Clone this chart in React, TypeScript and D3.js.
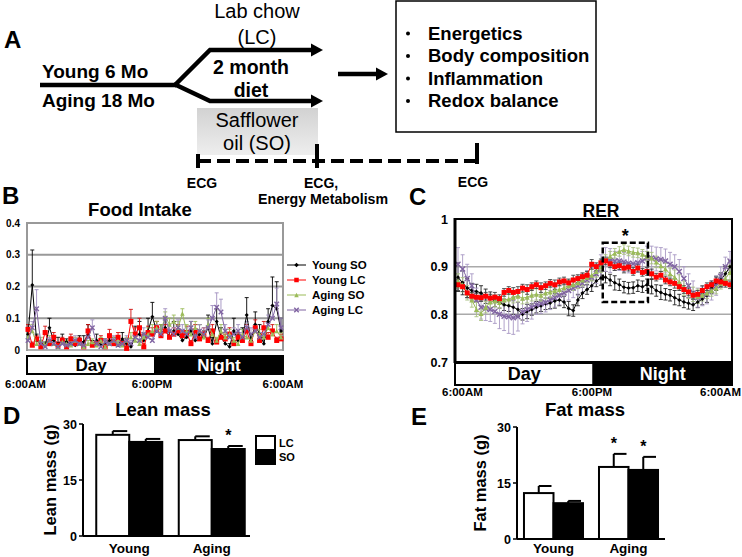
import React from 'react';
import * as d3 from 'd3';

const FONT = "'Liberation Sans', Arial, Helvetica, sans-serif";

// ---------- Panel B: Food intake (g) ----------
const foodYoungSO = [0.05, 0.205, 0.03, 0.02, 0.015, 0.07, 0.03, 0.02, 0.03, 0.025, 0.02, 0.015, 0.03, 0.025, 0.05, 0.02, 0.03, 0.015, 0.02, 0.03, 0.025, 0.015, 0.035, 0.02, 0.01, 0.045, 0.05, 0.03, 0.06, 0.105, 0.06, 0.05, 0.07, 0.04, 0.06, 0.05, 0.03, 0.04, 0.06, 0.03, 0.05, 0.04, 0.07, 0.02, 0.09, 0.04, 0.02, 0.01, 0.06, 0.03, 0.04, 0.11, 0.03, 0.08, 0.05, 0.02, 0.09, 0.14, 0.13, 0.06];
const foodYoungSOErr = [0.02, 0.11, 0.02, 0.01, 0.01, 0.03, 0.015, 0.02, 0.02, 0.01, 0.02, 0.01, 0.015, 0.02, 0.03, 0.01, 0.02, 0.01, 0.015, 0.02, 0.015, 0.01, 0.02, 0.015, 0.01, 0.03, 0.04, 0.02, 0.04, 0.045, 0.03, 0.03, 0.03, 0.02, 0.03, 0.03, 0.02, 0.02, 0.03, 0.02, 0.03, 0.02, 0.04, 0.02, 0.04, 0.03, 0.02, 0.01, 0.04, 0.02, 0.03, 0.055, 0.02, 0.04, 0.03, 0.02, 0.04, 0.09, 0.085, 0.04];
const foodYoungLC = [0.065, 0.015, 0.035, 0.01, 0.055, 0.02, 0.04, 0.015, 0.03, 0.01, 0.035, 0.02, 0.03, 0.01, 0.06, 0.015, 0.02, 0.03, 0.01, 0.045, 0.02, 0.04, 0.02, 0.005, 0.09, 0.05, 0.07, 0.01, 0.055, 0.05, 0.07, 0.045, 0.06, 0.04, 0.05, 0.06, 0.045, 0.055, 0.02, 0.06, 0.035, 0.05, 0.03, 0.06, 0.025, 0.04, 0.035, 0.05, 0.02, 0.04, 0.03, 0.06, 0.02, 0.07, 0.03, 0.07, 0.04, 0.06, 0.03, 0.035];
const foodYoungLCErr = [0.015, 0.01, 0.01, 0.01, 0.02, 0.01, 0.015, 0.01, 0.01, 0.01, 0.015, 0.01, 0.01, 0.01, 0.02, 0.01, 0.01, 0.015, 0.01, 0.02, 0.01, 0.015, 0.01, 0.01, 0.038, 0.02, 0.03, 0.01, 0.02, 0.02, 0.02, 0.02, 0.02, 0.015, 0.02, 0.02, 0.015, 0.02, 0.01, 0.02, 0.015, 0.02, 0.01, 0.02, 0.01, 0.015, 0.015, 0.02, 0.01, 0.015, 0.01, 0.02, 0.01, 0.025, 0.01, 0.02, 0.015, 0.02, 0.01, 0.015];
const foodAgingSO = [0.04, 0.06, 0.02, 0.03, 0.015, 0.03, 0.02, 0.01, 0.025, 0.02, 0.015, 0.03, 0.02, 0.01, 0.02, 0.025, 0.015, 0.03, 0.01, 0.02, 0.03, 0.02, 0.015, 0.03, 0.04, 0.03, 0.02, 0.04, 0.05, 0.06, 0.07, 0.06, 0.105, 0.08, 0.09, 0.07, 0.115, 0.06, 0.05, 0.07, 0.06, 0.04, 0.08, 0.05, 0.03, 0.06, 0.04, 0.05, 0.03, 0.02, 0.05, 0.04, 0.03, 0.06, 0.05, 0.04, 0.07, 0.05, 0.06, 0.04];
const foodAgingSOErr = [0.01, 0.02, 0.01, 0.01, 0.01, 0.015, 0.01, 0.005, 0.01, 0.01, 0.01, 0.01, 0.01, 0.005, 0.01, 0.01, 0.01, 0.01, 0.005, 0.01, 0.01, 0.01, 0.01, 0.01, 0.015, 0.01, 0.01, 0.015, 0.02, 0.02, 0.02, 0.02, 0.015, 0.02, 0.02, 0.02, 0.015, 0.02, 0.015, 0.02, 0.02, 0.015, 0.02, 0.015, 0.01, 0.02, 0.015, 0.015, 0.01, 0.01, 0.015, 0.015, 0.01, 0.02, 0.015, 0.01, 0.02, 0.015, 0.02, 0.015];
const foodAgingLC = [0.03, 0.07, 0.13, 0.02, 0.01, 0.03, 0.02, 0.01, 0.02, 0.015, 0.02, 0.03, 0.02, 0.015, 0.04, 0.07, 0.02, 0.01, 0.025, 0.02, 0.03, 0.015, 0.02, 0.03, 0.02, 0.04, 0.03, 0.05, 0.04, 0.03, 0.06, 0.05, 0.1, 0.06, 0.05, 0.07, 0.06, 0.05, 0.07, 0.04, 0.06, 0.05, 0.07, 0.1, 0.135, 0.12, 0.06, 0.04, 0.05, 0.06, 0.04, 0.07, 0.05, 0.06, 0.04, 0.05, 0.08, 0.1, 0.145, 0.07];
const foodAgingLCErr = [0.01, 0.02, 0.06, 0.01, 0.01, 0.01, 0.01, 0.005, 0.01, 0.01, 0.01, 0.015, 0.01, 0.01, 0.02, 0.025, 0.01, 0.005, 0.01, 0.01, 0.015, 0.01, 0.01, 0.015, 0.01, 0.02, 0.015, 0.02, 0.02, 0.015, 0.02, 0.02, 0.03, 0.02, 0.02, 0.025, 0.02, 0.02, 0.02, 0.015, 0.02, 0.02, 0.025, 0.04, 0.045, 0.04, 0.02, 0.015, 0.02, 0.02, 0.015, 0.02, 0.02, 0.02, 0.015, 0.02, 0.03, 0.04, 0.05, 0.03];
const foodTicks = [0, 0.1, 0.2, 0.3, 0.4];

// ---------- Panel C: RER ----------
const rerYoungSO = [0.878, 0.866, 0.855, 0.85, 0.848, 0.845, 0.838, 0.835, 0.828, 0.825, 0.82, 0.818, 0.815, 0.81, 0.8, 0.806, 0.81, 0.815, 0.818, 0.822, 0.824, 0.828, 0.83, 0.826, 0.812, 0.808, 0.83, 0.845, 0.852, 0.86, 0.87, 0.876, 0.878, 0.872, 0.866, 0.862, 0.857, 0.855, 0.856, 0.86, 0.858, 0.862, 0.858, 0.85, 0.846, 0.842, 0.84, 0.835, 0.83, 0.826, 0.823, 0.82, 0.826, 0.832, 0.84, 0.855, 0.865, 0.872, 0.885, 0.9];
const rerYoungSOErr = [0.03, 0.025, 0.02, 0.015, 0.015, 0.015, 0.015, 0.012, 0.012, 0.012, 0.012, 0.012, 0.015, 0.015, 0.012, 0.015, 0.012, 0.012, 0.012, 0.012, 0.012, 0.015, 0.012, 0.012, 0.015, 0.012, 0.012, 0.012, 0.01, 0.012, 0.012, 0.015, 0.012, 0.012, 0.015, 0.012, 0.012, 0.012, 0.012, 0.012, 0.012, 0.012, 0.015, 0.012, 0.015, 0.012, 0.012, 0.015, 0.012, 0.012, 0.012, 0.012, 0.012, 0.012, 0.015, 0.012, 0.015, 0.015, 0.015, 0.012];
const rerYoungLC = [0.862, 0.858, 0.845, 0.838, 0.836, 0.835, 0.838, 0.834, 0.836, 0.833, 0.846, 0.85, 0.846, 0.848, 0.855, 0.852, 0.858, 0.862, 0.856, 0.86, 0.865, 0.862, 0.868, 0.87, 0.866, 0.872, 0.875, 0.879, 0.882, 0.905, 0.9, 0.908, 0.912, 0.906, 0.9, 0.902, 0.897, 0.899, 0.89, 0.897, 0.888, 0.89, 0.885, 0.878, 0.882, 0.872, 0.868, 0.865, 0.858, 0.852, 0.847, 0.84, 0.842, 0.85, 0.858, 0.862, 0.87, 0.868, 0.865, 0.862];
const rerYoungLCErr = [0.012, 0.01, 0.01, 0.008, 0.008, 0.008, 0.008, 0.008, 0.01, 0.008, 0.008, 0.008, 0.01, 0.01, 0.008, 0.01, 0.008, 0.008, 0.01, 0.008, 0.008, 0.01, 0.008, 0.008, 0.008, 0.01, 0.008, 0.008, 0.008, 0.01, 0.008, 0.008, 0.008, 0.008, 0.008, 0.008, 0.01, 0.008, 0.008, 0.008, 0.008, 0.008, 0.01, 0.008, 0.008, 0.008, 0.008, 0.01, 0.008, 0.008, 0.008, 0.008, 0.008, 0.01, 0.008, 0.008, 0.008, 0.01, 0.008, 0.008];
const rerAgingSO = [0.87, 0.862, 0.845, 0.83, 0.81, 0.802, 0.815, 0.826, 0.828, 0.825, 0.83, 0.832, 0.836, 0.838, 0.834, 0.836, 0.84, 0.842, 0.84, 0.845, 0.847, 0.85, 0.852, 0.856, 0.86, 0.862, 0.866, 0.872, 0.878, 0.882, 0.89, 0.9, 0.915, 0.922, 0.928, 0.932, 0.936, 0.933, 0.93, 0.929, 0.926, 0.922, 0.918, 0.91, 0.902, 0.895, 0.885, 0.878, 0.868, 0.855, 0.848, 0.842, 0.838, 0.84, 0.845, 0.85, 0.855, 0.865, 0.875, 0.888];
const rerAgingSOErr = [0.015, 0.015, 0.015, 0.015, 0.015, 0.015, 0.012, 0.012, 0.012, 0.012, 0.012, 0.012, 0.012, 0.012, 0.012, 0.012, 0.012, 0.012, 0.012, 0.012, 0.012, 0.012, 0.012, 0.012, 0.012, 0.012, 0.012, 0.012, 0.012, 0.012, 0.012, 0.012, 0.01, 0.01, 0.01, 0.01, 0.01, 0.01, 0.01, 0.01, 0.01, 0.01, 0.012, 0.012, 0.012, 0.012, 0.012, 0.015, 0.015, 0.015, 0.015, 0.015, 0.015, 0.012, 0.012, 0.012, 0.012, 0.012, 0.015, 0.015];
const rerAgingLC = [0.905, 0.895, 0.875, 0.86, 0.83, 0.815, 0.812, 0.81, 0.806, 0.8, 0.796, 0.795, 0.793, 0.795, 0.805, 0.81, 0.815, 0.82, 0.822, 0.825, 0.83, 0.835, 0.84, 0.845, 0.85, 0.855, 0.86, 0.865, 0.872, 0.878, 0.885, 0.9, 0.915, 0.913, 0.912, 0.912, 0.91, 0.907, 0.906, 0.908, 0.912, 0.918, 0.918, 0.916, 0.915, 0.912, 0.905, 0.9, 0.89, 0.875, 0.86, 0.845, 0.835, 0.838, 0.842, 0.85, 0.86, 0.88, 0.9, 0.912];
const rerAgingLCErr = [0.035, 0.03, 0.03, 0.025, 0.025, 0.025, 0.025, 0.025, 0.025, 0.03, 0.03, 0.035, 0.035, 0.03, 0.025, 0.025, 0.025, 0.02, 0.02, 0.02, 0.02, 0.02, 0.02, 0.02, 0.02, 0.02, 0.02, 0.02, 0.02, 0.02, 0.02, 0.025, 0.025, 0.025, 0.02, 0.02, 0.02, 0.02, 0.02, 0.02, 0.02, 0.025, 0.025, 0.025, 0.025, 0.025, 0.025, 0.025, 0.025, 0.025, 0.025, 0.025, 0.02, 0.02, 0.02, 0.02, 0.02, 0.02, 0.02, 0.02];
const rerTicks = [0.7, 0.8, 0.9, 1];
const rerGrid = [0.8, 0.9];
const rerBox = { i0: 31.4, i1: 41.2, top: 0.95, bottom: 0.826 };

// ---------- Panels D, E: body composition ----------
const ages = ['Young', 'Aging'];
const diets = ['LC', 'SO'];
const leanLC = [27.1, 25.7];
const leanLCErr = [1.0, 1.0];
const leanSO = [25.2, 23.3];
const leanSOErr = [0.8, 0.8];
const leanStars = [[false, false], [false, true]];
const fatLC = [12.3, 19.3];
const fatLCErr = [1.9, 3.5];
const fatSO = [9.6, 18.5];
const fatSOErr = [0.6, 3.5];
const fatStars = [[false, false], [true, true]];
const massTicks = [0, 15, 30];

const timeLabels = ['6:00AM', '6:00PM', '6:00AM'];
const outcomes = ['Energetics', 'Body composition', 'Inflammation', 'Redox balance'];

type Series = { name: string; values: number[]; err: number[]; color: string; errColor: string; shape: string };

const foodSeries: Series[] = [
  { name: 'Young SO', values: foodYoungSO, err: foodYoungSOErr, color: '#000000', errColor: '#000000', shape: 'diamond' },
  { name: 'Young LC', values: foodYoungLC, err: foodYoungLCErr, color: '#ff0000', errColor: '#d01010', shape: 'square' },
  { name: 'Aging SO', values: foodAgingSO, err: foodAgingSOErr, color: '#9bbb59', errColor: '#9bbb59', shape: 'triangle' },
  { name: 'Aging LC', values: foodAgingLC, err: foodAgingLCErr, color: '#8064a2', errColor: '#a090c0', shape: 'x' },
];
const rerSeries: Series[] = [
  { name: 'Young SO', values: rerYoungSO, err: rerYoungSOErr, color: '#000000', errColor: '#222222', shape: 'diamond' },
  { name: 'Aging LC', values: rerAgingLC, err: rerAgingLCErr, color: '#8064a2', errColor: '#a898c4', shape: 'x' },
  { name: 'Aging SO', values: rerAgingSO, err: rerAgingSOErr, color: '#9bbb59', errColor: '#a8c080', shape: 'triangle' },
  { name: 'Young LC', values: rerYoungLC, err: rerYoungLCErr, color: '#ff0000', errColor: '#444444', shape: 'square' },
];

function Marker({ shape, cx, cy, s, color }: { shape: string; cx: number; cy: number; s: number; color: string }) {
  const h = s / 2;
  if (shape === 'x')
    return <path d={`M${cx - h},${cy - h}L${cx + h},${cy + h}M${cx - h},${cy + h}L${cx + h},${cy - h}`} stroke={color} strokeWidth={1.4} fill="none" />;
  if (shape === 'square') return <rect x={cx - h} y={cy - h} width={s} height={s} fill={color} />;
  if (shape === 'triangle') return <path d={`M${cx},${cy - h}L${cx + h},${cy + h}L${cx - h},${cy + h}Z`} fill={color} />;
  return <path d={`M${cx},${cy - h}L${cx + h},${cy}L${cx},${cy + h}L${cx - h},${cy}Z`} fill={color} />;
}

function SeriesPlot({ series, x, y, both, sizes }: { series: Series[]; x: any; y: any; both: boolean; sizes: Record<string, number> }) {
  const line = d3.line<number>().x((_, i) => x(i)).y((d) => y(d));
  return (
    <g>
      {series.map((s) => (
        <g key={'e' + s.name}>
          {s.values.map((v, i) => {
            const e = s.err[i] ?? 0;
            const yt = y(v + e);
            const yb = both ? y(v - e) : y(v);
            return (
              <g key={i} stroke={s.errColor} strokeWidth={0.9}>
                <line x1={x(i)} x2={x(i)} y1={yt} y2={yb} />
                <line x1={x(i) - 2} x2={x(i) + 2} y1={yt} y2={yt} />
                {both && <line x1={x(i) - 2} x2={x(i) + 2} y1={yb} y2={yb} />}
              </g>
            );
          })}
        </g>
      ))}
      {series.map((s) => (
        <g key={'s' + s.name}>
          <path d={line(s.values) || ''} fill="none" stroke={s.color} strokeWidth={1} />
          {s.values.map((v, i) => (
            <Marker key={i} shape={s.shape} cx={x(i)} cy={y(v)} s={sizes[s.shape]} color={s.color} />
          ))}
        </g>
      ))}
    </g>
  );
}

function DayNight({ x0, x1, y0, y1, fs }: { x0: number; x1: number; y0: number; y1: number; fs: number }) {
  const xm = (x0 + x1) / 2;
  return (
    <g>
      <rect x={x0} y={y0} width={xm - x0} height={y1 - y0} fill="#fff" stroke="#000" strokeWidth={2} />
      <rect x={xm} y={y0} width={x1 - xm} height={y1 - y0} fill="#000" stroke="#000" strokeWidth={2} />
      <text x={(x0 + xm) / 2} y={(y0 + y1) / 2 + fs * 0.36} textAnchor="middle" fontSize={fs} fontWeight="bold" fill="#000">Day</text>
      <text x={(xm + x1) / 2} y={(y0 + y1) / 2 + fs * 0.36} textAnchor="middle" fontSize={fs} fontWeight="bold" fill="#fff">Night</text>
    </g>
  );
}

function BarPanel({ lc, lcErr, so, soErr, stars, x0, x1, axisX0, axisX1, y0, y1, pI, pO, title, yTitle, titleX, yTitleX }: any) {
  const xg = d3.scaleBand<string>().domain(ages).range([x0, x1]).paddingInner(pI).paddingOuter(pO);
  const xd = d3.scaleBand<string>().domain(diets).range([0, xg.bandwidth()]);
  const y = d3.scaleLinear().domain([0, 30]).range([y0, y1]);
  const vals: Record<string, number[]> = { LC: lc, SO: so };
  const errs: Record<string, number[]> = { LC: lcErr, SO: soErr };
  return (
    <g>
      <text x={titleX} y={416} textAnchor="middle" fontSize={18.5} fontWeight="bold">{title}</text>
      <text transform={`translate(${yTitleX},${(y0 + y1) / 2}) rotate(-90)`} textAnchor="middle" fontSize={16.5} fontWeight="bold">{yTitle}</text>
      {ages.map((a, ai) =>
        diets.map((d, di) => {
          const bx = (xg(a) as number) + (xd(d) as number);
          const bw = xd.bandwidth();
          const v = vals[d][ai];
          const e = errs[d][ai];
          const cx = bx + bw / 2;
          return (
            <g key={a + d}>
              <line x1={cx} x2={cx} y1={y(v)} y2={y(v + e)} stroke="#000" strokeWidth={2} />
              <line x1={cx} x2={bx + bw - 2} y1={y(v + e)} y2={y(v + e)} stroke="#000" strokeWidth={2} />
              <rect x={bx} y={y(v)} width={bw} height={y(0) - y(v)} fill={d === 'LC' ? '#fff' : '#000'} stroke="#000" strokeWidth={2} />
              {stars[ai][di] && (
                <text x={cx} y={y(v + e) - 5} textAnchor="middle" fontSize={16} fontWeight="bold">*</text>
              )}
            </g>
          );
        })
      )}
      <line x1={axisX0} x2={axisX0} y1={y(30)} y2={y(0)} stroke="#000" strokeWidth={2} />
      <line x1={axisX0} x2={axisX1} y1={y(0)} y2={y(0)} stroke="#000" strokeWidth={2} />
      {massTicks.map((t) => (
        <g key={t}>
          <line x1={axisX0 - 4} x2={axisX0} y1={y(t)} y2={y(t)} stroke="#000" strokeWidth={1.5} />
          <text x={axisX0 - 6} y={y(t) + 4.5} textAnchor="end" fontSize={12.5} fontWeight="bold">{t}</text>
        </g>
      ))}
      {ages.map((a) => (
        <text key={a} x={(xg(a) as number) + xg.bandwidth() / 2} y={553} textAnchor="middle" fontSize={13.5} fontWeight="bold">{a}</text>
      ))}
    </g>
  );
}

function Arrow({ d, tipX, tipY }: { d: string; tipX: number; tipY: number }) {
  return (
    <g>
      <path d={d} fill="none" stroke="#000" strokeWidth={4.5} strokeLinejoin="miter" />
      <path d={`M${tipX - 12},${tipY - 6.5}L${tipX},${tipY}L${tipX - 12},${tipY + 6.5}Z`} fill="#000" />
    </g>
  );
}

export default function App() {
  const xB = d3.scaleLinear().domain([0, 59]).range([28, 281]);
  const yB = d3.scaleLinear().domain([0, 0.4]).range([350, 223]);
  const xC = d3.scaleLinear().domain([0, 59]).range([458, 730]);
  const yC = d3.scaleLinear().domain([0.7, 1]).range([362, 219]);

  return (
    <div style={{ position: 'absolute', left: 0, top: 0 }}>
      <svg width={742} height={557} style={{ display: 'block', background: '#fff' }} fontFamily={FONT}>
        <defs>
          <linearGradient id="soGrad" x1="0" y1="0" x2="0" y2="1">
            <stop offset="0" stopColor="#d2d2d2" />
            <stop offset="1" stopColor="#eeeeee" />
          </linearGradient>
        </defs>
        <rect width={742} height={557} fill="#fff" />

        {/* ---------- Panel A ---------- */}
        <text x={4} y={48} fontSize={24} fontWeight="bold">A</text>
        <path d="M40,85 L176,85" stroke="#000" strokeWidth={4.5} />
        <Arrow d="M174,86 L210,50 L312,50" tipX={323} tipY={50} />
        <Arrow d="M174,84 L210,101 L312,101" tipX={323} tipY={101} />
        <text x={42} y={78} fontSize={19} fontWeight="bold">Young 6 Mo</text>
        <text x={42} y={107} fontSize={19} fontWeight="bold">Aging 18 Mo</text>
        <text x={257} y={18} textAnchor="middle" fontSize={20}>Lab chow</text>
        <text x={257} y={44} textAnchor="middle" fontSize={20}>(LC)</text>
        <text x={251} y={74} textAnchor="middle" fontSize={19.5} fontWeight="bold">2 month</text>
        <text x={251} y={97} textAnchor="middle" fontSize={19.5} fontWeight="bold">diet</text>
        <rect x={197} y={108} width={121} height={47} fill="url(#soGrad)" />
        <text x={257} y={127} textAnchor="middle" fontSize={20}>Safflower</text>
        <text x={257} y={150} textAnchor="middle" fontSize={20}>oil (SO)</text>
        <Arrow d="M338,74 L378,74" tipX={388} tipY={74} />
        <rect x={396} y={1} width={200} height={131} fill="none" stroke="#000" strokeWidth={1.5} />
        {outcomes.map((o, i) => (
          <g key={o}>
            <circle cx={408} cy={33.5 + i * 22.5} r={2} fill="#000" />
            <text x={428} y={39.5 + i * 22.5} fontSize={18.5} fontWeight="bold">{o}</text>
          </g>
        ))}
        <line x1={198} x2={477} y1={161} y2={161} stroke="#000" strokeWidth={4} strokeDasharray="13,6" />
        <line x1={198} x2={198} y1={154} y2={168} stroke="#000" strokeWidth={4} />
        <line x1={317} x2={317} y1={144} y2={168} stroke="#000" strokeWidth={4} />
        <line x1={477} x2={477} y1={143} y2={164} stroke="#000" strokeWidth={4} />
        <text x={202} y={188} textAnchor="middle" fontSize={14} fontWeight="bold">ECG</text>
        <text x={304} y={188} fontSize={14} fontWeight="bold">ECG,</text>
        <text x={258} y={204} fontSize={14.2} fontWeight="bold">Energy Metabolism</text>
        <text x={473} y={187} textAnchor="middle" fontSize={14} fontWeight="bold">ECG</text>

        {/* ---------- Panel B ---------- */}
        <text x={2} y={204} fontSize={24} fontWeight="bold">B</text>
        <text x={140} y={216} textAnchor="middle" fontSize={18.5} fontWeight="bold">Food Intake</text>
        {foodTicks.map((t) => (
          <g key={t}>
            {t > 0 && <line x1={27} x2={283} y1={yB(t)} y2={yB(t)} stroke="#999" strokeWidth={2} />}
            <text x={20} y={yB(t) + 3.5} textAnchor="end" fontSize={10} fontWeight="bold">{t === 0 ? '0' : String(t)}</text>
          </g>
        ))}
        <line x1={27} x2={27} y1={222} y2={351} stroke="#999" strokeWidth={2} />
        <line x1={283} x2={283} y1={222} y2={351} stroke="#999" strokeWidth={2} />
        <line x1={27} x2={283} y1={350} y2={350} stroke="#999" strokeWidth={1.5} />
        <SeriesPlot series={foodSeries} x={xB} y={yB} both={false} sizes={{ diamond: 4, square: 5, triangle: 4.5, x: 4.5 }} />
        <DayNight x0={27} x1={283} y0={356} y1={374} fs={17} />
        <text x={5} y={388} fontSize={11.5} fontWeight="bold">{timeLabels[0]}</text>
        <text x={152} y={388} textAnchor="middle" fontSize={11.5} fontWeight="bold">{timeLabels[1]}</text>
        <text x={283} y={388} textAnchor="middle" fontSize={11.5} fontWeight="bold">{timeLabels[2]}</text>
        {/* legend */}
        {[foodSeries[0], foodSeries[1], foodSeries[2], foodSeries[3]].map((s, i) => {
          const ly = 265 + i * 15;
          return (
            <g key={s.name}>
              <line x1={287} x2={306} y1={ly} y2={ly} stroke={s.color} strokeWidth={1} />
              <Marker shape={s.shape} cx={296.5} cy={ly} s={4.5} color={s.color} />
              <text x={312} y={ly + 4} fontSize={11.5} fontWeight="bold">{s.name}</text>
            </g>
          );
        })}

        {/* ---------- Panel C ---------- */}
        <text x={409} y={205} fontSize={24} fontWeight="bold">C</text>
        <text x={601} y={217} textAnchor="middle" fontSize={17.5} fontWeight="bold">RER</text>
        {rerGrid.map((t) => (
          <line key={t} x1={455} x2={732} y1={yC(t)} y2={yC(t)} stroke="#aaa" strokeWidth={1.5} />
        ))}
        {rerTicks.map((t) => (
          <text key={t} x={448} y={yC(t) + 4.5} textAnchor="end" fontSize={12.5} fontWeight="bold">{String(t)}</text>
        ))}
        <SeriesPlot series={rerSeries} x={xC} y={yC} both={true} sizes={{ diamond: 4, square: 5, triangle: 5, x: 5 }} />
        <rect x={455} y={219} width={277} height={143} fill="none" stroke="#000" strokeWidth={2} />
        <line x1={455} x2={455} y1={218} y2={363} stroke="#000" strokeWidth={3} />
        <rect x={xC(rerBox.i0)} y={yC(rerBox.top)} width={xC(rerBox.i1) - xC(rerBox.i0)} height={yC(rerBox.bottom) - yC(rerBox.top)} fill="none" stroke="#000" strokeWidth={2.5} strokeDasharray="6,3" />
        <text x={(xC(rerBox.i0) + xC(rerBox.i1)) / 2} y={yC(rerBox.top) - 1} textAnchor="middle" fontSize={18} fontWeight="bold">*</text>
        <DayNight x0={455} x1={732} y0={363} y1={385} fs={18} />
        <text x={442} y={396} fontSize={11.5} fontWeight="bold">{timeLabels[0]}</text>
        <text x={592} y={396} textAnchor="middle" fontSize={11.5} fontWeight="bold">{timeLabels[1]}</text>
        <text x={741} y={396} textAnchor="end" fontSize={11.5} fontWeight="bold">{timeLabels[2]}</text>

        {/* ---------- Panel D ---------- */}
        <text x={3} y={424} fontSize={24} fontWeight="bold">D</text>
        <BarPanel lc={leanLC} lcErr={leanLCErr} so={leanSO} soErr={leanSOErr} stars={leanStars}
          x0={88} x1={253} axisX0={83} axisX1={250} y0={536} y1={424} pI={0.2} pO={0.1}
          title="Lean mass" yTitle="Lean mass (g)" titleX={163} yTitleX={56} />
        <rect x={256} y={436} width={19} height={14} fill="#fff" stroke="#000" strokeWidth={2} />
        <rect x={256} y={450} width={19} height={14} fill="#000" stroke="#000" strokeWidth={2} />
        <text x={279} y={447} fontSize={11} fontWeight="bold">{diets[0]}</text>
        <text x={279} y={461} fontSize={11} fontWeight="bold">{diets[1]}</text>

        {/* ---------- Panel E ---------- */}
        <text x={411} y={425} fontSize={24} fontWeight="bold">E</text>
        <BarPanel lc={fatLC} lcErr={fatLCErr} so={fatSO} soErr={fatSOErr} stars={fatStars}
          x0={517} x1={665} axisX0={517} axisX1={665} y0={539} y1={427} pI={0.213} pO={0.093}
          title="Fat mass" yTitle="Fat mass (g)" titleX={585} yTitleX={486} />
      </svg>
    </div>
  );
}
